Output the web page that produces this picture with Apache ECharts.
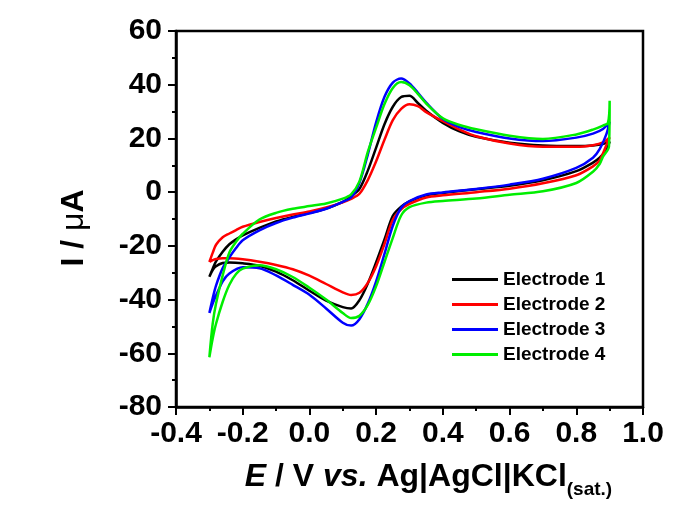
<!DOCTYPE html>
<html>
<head>
<meta charset="utf-8">
<script src="https://cdn.jsdelivr.net/npm/echarts@6/dist/echarts.min.js"></script>
<style>
  html, body { margin: 0; padding: 0; background: #ffffff; }
  #chart { width: 681px; height: 523px; }
</style>
</head>
<body>
<div id="chart"></div>
<script>
// Cyclic voltammograms, scan from -0.3 V up to +0.9 V and back.
// Potentials in V, currents in µA.
const forwardPotential = [-0.3, -0.29, -0.28, -0.26, -0.24, -0.22, -0.2, -0.15, -0.1, -0.05, 0, 0.05, 0.1, 0.125, 0.15, 0.175, 0.2, 0.225, 0.25, 0.275, 0.3, 0.325, 0.35, 0.4, 0.45, 0.5, 0.6, 0.7, 0.8, 0.85, 0.88, 0.9];
const reversePotential = [0.89, 0.87, 0.85, 0.8, 0.7, 0.6, 0.5, 0.4, 0.35, 0.3, 0.275, 0.25, 0.225, 0.2, 0.175, 0.15, 0.125, 0.1, 0.05, 0, -0.05, -0.1, -0.15, -0.2, -0.24, -0.26, -0.28, -0.29, -0.3];

const e1Forward = [-31.5, -28.5, -25.8, -22.2, -19.4, -17.6, -16.1, -13.3, -10.9, -9.2, -7.8, -6.1, -3.6, -1.6, 1.2, 8.0, 16.6, 25.3, 31.8, 35.4, 35.9, 33.2, 30.3, 25.8, 22.6, 20.6, 18.4, 17.4, 17.2, 17.4, 17.9, 18.8];
const e1Reverse = [15.7, 12.8, 11.0, 7.8, 4.4, 2.4, 1.1, -0.3, -1.2, -3.4, -5.4, -8.8, -17.6, -26.1, -34.0, -40.2, -43.3, -42.8, -40.4, -36.7, -32.8, -29.6, -27.4, -26.5, -26.2, -26.4, -27.6, -29.0, -31.5];

const e2Forward = [-26.0, -22.6, -19.6, -16.8, -15.4, -14.1, -12.9, -11.1, -9.6, -8.3, -7.2, -5.7, -3.8, -2.5, -0.6, 4.5, 11.5, 19.5, 26.8, 31.0, 32.7, 32.0, 29.8, 26.4, 23.3, 20.8, 18.1, 16.9, 16.9, 17.5, 18.5, 20.4];
const e2Reverse = [17.5, 11.8, 9.6, 6.3, 3.3, 1.3, 0.0, -1.2, -2.0, -4.4, -6.4, -10.3, -19.3, -27.6, -33.8, -37.5, -38.3, -37.3, -34.2, -31.1, -28.7, -27.1, -25.9, -25.0, -24.6, -24.6, -24.9, -25.3, -26.0];

const e3Forward = [-45.0, -39.5, -34.8, -28.3, -24.3, -20.8, -17.9, -14.2, -11.5, -9.5, -7.9, -6.2, -3.6, -2.0, 3.5, 14.0, 26.0, 35.5, 40.8, 42.3, 40.5, 37.0, 33.3, 27.2, 24.2, 22.4, 20.0, 19.0, 20.3, 21.8, 23.5, 26.2];
const e3Reverse = [21.5, 16.0, 12.8, 9.0, 5.0, 2.8, 1.2, -0.1, -0.9, -3.3, -5.8, -12.5, -23.0, -33.2, -41.5, -47.3, -49.7, -48.6, -43.3, -38.2, -34.5, -31.0, -28.3, -28.0, -30.3, -33.2, -38.5, -41.5, -45.0];

// Electrode 4 has a short spike at the switching potential, so it keeps its own potentials.
const e4ForwardPotential = [-0.3, -0.29, -0.28, -0.26, -0.24, -0.22, -0.2, -0.15, -0.1, -0.05, 0, 0.05, 0.1, 0.125, 0.15, 0.175, 0.2, 0.225, 0.25, 0.275, 0.3, 0.325, 0.35, 0.4, 0.45, 0.5, 0.6, 0.7, 0.8, 0.85, 0.88, 0.895, 0.9];
const e4Forward = [-61.5, -49.0, -41.5, -31.0, -22.5, -18.5, -15.5, -10.2, -7.7, -6.2, -5.2, -4.2, -2.4, -0.8, 4.0, 15.0, 24.0, 32.8, 38.8, 41.0, 39.8, 36.6, 33.0, 27.5, 25.0, 23.4, 21.0, 19.8, 21.5, 23.3, 24.8, 25.8, 34.0];
const e4ReversePotential = [0.898, 0.88, 0.87, 0.85, 0.8, 0.7, 0.6, 0.5, 0.4, 0.35, 0.3, 0.275, 0.25, 0.225, 0.2, 0.175, 0.15, 0.125, 0.1, 0.05, 0, -0.05, -0.1, -0.15, -0.2, -0.22, -0.24, -0.26, -0.28, -0.29, -0.3];
const e4Reverse = [17.0, 13.2, 10.5, 7.6, 3.4, 0.3, -1.0, -2.4, -3.3, -3.9, -5.6, -8.7, -17.0, -26.0, -35.0, -42.0, -46.0, -46.9, -45.0, -40.0, -35.6, -31.6, -28.7, -27.2, -28.5, -30.5, -34.5, -40.8, -49.0, -54.5, -61.5];

const seriesNames = ['Electrode 1', 'Electrode 2', 'Electrode 3', 'Electrode 4'];
const seriesColors = ['#000000', '#ff0000', '#0000ff', '#00ee00'];

function cycle(fE, fI, rE, rI) {
  const pts = [];
  fE.forEach((e, i) => pts.push([e, fI[i]]));
  rE.forEach((e, i) => pts.push([e, rI[i]]));
  return pts;
}

const curves = [
  cycle(forwardPotential, e1Forward, reversePotential, e1Reverse),
  cycle(forwardPotential, e2Forward, reversePotential, e2Reverse),
  cycle(forwardPotential, e3Forward, reversePotential, e3Reverse),
  cycle(e4ForwardPotential, e4Forward, e4ReversePotential, e4Reverse)
];

const font = '"Liberation Sans", Arial, sans-serif';
const chart = echarts.init(document.getElementById('chart'), null, { renderer: 'canvas' });

chart.setOption({
  animation: false,
  backgroundColor: '#ffffff',
  grid: {
    left: 176, right: 38, top: 31, bottom: 116,
    show: true, borderColor: '#000', borderWidth: 2.5, backgroundColor: 'transparent'
  },
  legend: {
    data: seriesNames,
    orient: 'vertical',
    left: 452, top: 267,
    icon: 'rect',
    itemWidth: 46, itemHeight: 3, itemGap: 0,
    padding: 0,
    textStyle: { fontFamily: font, fontWeight: 'bold', fontSize: 19, lineHeight: 25, color: '#000' }
  },
  xAxis: {
    type: 'value',
    min: -0.4, max: 1.0, interval: 0.2,
    name: '{i|E}{n| / V }{i|vs.}{n| Ag|AgCl|KCl}{s|(sat.)}',
    nameLocation: 'middle',
    nameGap: 54,
    nameTextStyle: {
      padding: [0, 0, 0, 38],
      rich: {
        n: { fontFamily: font, fontWeight: 'bold', fontSize: 32, color: '#000', lineHeight: 34, verticalAlign: 'top' },
        i: { fontFamily: font, fontWeight: 'bold', fontStyle: 'italic', fontSize: 32, color: '#000', lineHeight: 34, verticalAlign: 'top' },
        s: { fontFamily: font, fontWeight: 'bold', fontSize: 19, color: '#000', lineHeight: 20, verticalAlign: 'top', padding: [19, 0, 0, 0] }
      }
    },
    axisLine: { onZero: false, lineStyle: { color: '#000', width: 2.5 } },
    axisTick: { inside: false, length: 8, lineStyle: { color: '#000', width: 2 } },
    minorTick: { show: true, splitNumber: 2, length: 4, lineStyle: { color: '#000', width: 2 } },
    splitLine: { show: false },
    axisLabel: {
      margin: 12,
      fontFamily: font, fontWeight: 'bold', fontSize: 30, color: '#000',
      formatter: v => v.toFixed(1)
    }
  },
  yAxis: {
    type: 'value',
    min: -80, max: 60, interval: 20,
    name: '{b|I / }{m|μ}{b|A}',
    nameLocation: 'middle',
    nameRotate: 90,
    nameGap: 86,
    nameTextStyle: {
      padding: [0, 18, 0, 0],
      rich: {
        b: { fontFamily: font, fontWeight: 'bold', fontSize: 32, color: '#000' },
        m: { fontFamily: font, fontWeight: 'normal', fontSize: 32, color: '#000' }
      }
    },
    axisLine: { onZero: false, lineStyle: { color: '#000', width: 2.5 } },
    axisTick: { inside: false, length: 8, lineStyle: { color: '#000', width: 2 } },
    minorTick: { show: true, splitNumber: 2, length: 4, lineStyle: { color: '#000', width: 2 } },
    splitLine: { show: false },
    axisLabel: {
      margin: 14,
      fontFamily: font, fontWeight: 'bold', fontSize: 30, color: '#000'
    }
  },
  series: curves.map((data, k) => ({
    name: seriesNames[k],
    type: 'line',
    data: data,
    symbol: 'none',
    smooth: 0.3,
    clip: true,
    lineStyle: { color: seriesColors[k], width: 2.5 },
    itemStyle: { color: seriesColors[k] },
    z: 2 + k
  }))
});
</script>
</body>
</html>
